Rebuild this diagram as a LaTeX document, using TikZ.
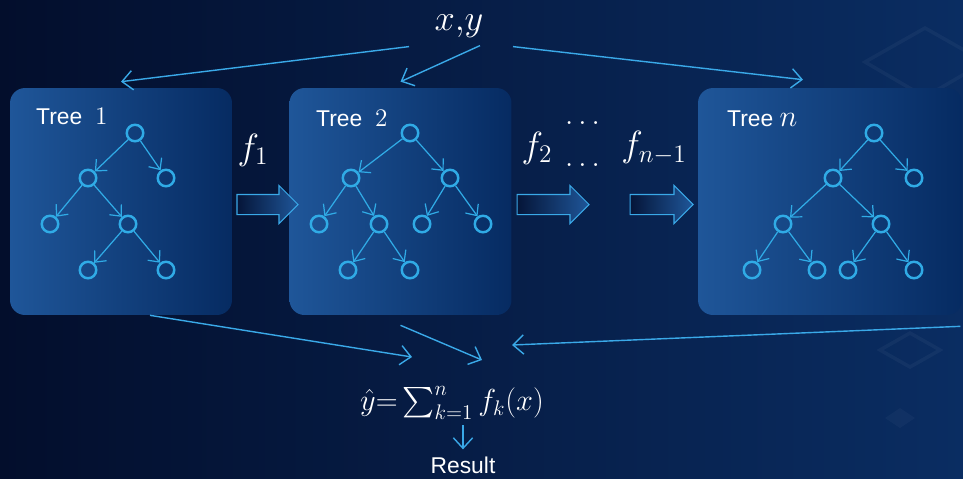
\documentclass[tikz,border=0pt]{standalone}
\usepackage{amsmath}
\usepackage[no-math]{fontspec}
\newfontfamily\arialfont{Liberation Sans}
\usetikzlibrary{arrows.meta,positioning,calc,shapes.arrows}
\definecolor{bgdark}{HTML}{030E2C}
\definecolor{bgmid}{HTML}{051538}
\definecolor{bgright}{HTML}{0A2D62}
\definecolor{boxlight}{HTML}{1F5699}
\definecolor{boxdark}{HTML}{062B62}
\definecolor{nodeblue}{HTML}{30ABE6}
\definecolor{linkblue}{HTML}{3AA9E8}

\begin{document}
\begin{tikzpicture}[x=0.02cm, y=-0.02cm,
  treebox/.style={rounded corners=0.3cm,minimum width=4.44cm,minimum height=4.54cm,left color=boxlight,right color=boxdark,inner sep=0},
  tn/.style={circle,draw=nodeblue,line width=1.4pt,minimum size=0.33cm,inner sep=0},
  te/.style={nodeblue,line width=0.7pt,-{Straight Barb[length=5pt,width=9pt]}},
  link/.style={linkblue,line width=0.8pt,-{Straight Barb[length=6pt,width=11pt]}},
  bigarrow/.style={single arrow,single arrow head extend=0.18cm,inner xsep=0,inner ysep=0.19cm,left color=bgmid,right color=boxlight,draw=linkblue,line width=0.6pt},
  lbl/.style={text=white,font=\arialfont\fontsize{13}{15}\selectfont},
  mth/.style={text=white,font=\fontsize{20}{24}\selectfont},
]
  % background
  \shade[left color=bgdark,middle color=bgmid,right color=bgright] (0,0) rectangle (963,478);
  \useasboundingbox (0,0) rectangle (963,478);
  \draw[white,opacity=0.04,line width=2pt] (865,62) -- (925,28) -- (985,62) -- (925,97) -- cycle;
  \draw[white,opacity=0.04,line width=2pt] (880,350) -- (910,333) -- (940,350) -- (910,367) -- cycle;
  \fill[white,opacity=0.03] (885,418) -- (900,408) -- (915,418) -- (900,428) -- cycle;

  % boxes
  \node[treebox] (t1) at (121,201.5) {};
  \node[treebox] (t2) at (400.5,201.5) {};
  \node[treebox,minimum width=5.28cm] (t3) at (830,201.5) {};

  \node[lbl,anchor=base west] (l1) at (30,124) {Tree\ \ \fontsize{15}{15}\selectfont$1$};
  \node[lbl,anchor=base west] (l2) at (310,126) {Tree\ \ \fontsize{15}{15}\selectfont$2$};
  \node[lbl,anchor=base west] (l3) at (721,126) {Tree\ \fontsize{18}{18}\selectfont$n$};

  % trees
  \foreach \n/\px/\py in {a1/135/133,a2/88/178,a3/166/178,a4/50/224,a5/128/224,a6/88/270,a7/166/270,
    b1/410/133,b2/351/178,b3/450/178,b4/319/224,b5/379/224,b6/422/224,b7/483/224,b8/348/270,b9/410/270,
    c1/874/133,c2/833/178,c3/914/178,c4/783/224,c5/881/224,c6/752/270,c7/817/270,c8/848/270,c9/914/270}
    \node[tn] (\n) at (\px,\py) {};
  \foreach \u/\v in {a1/a2,a1/a3,a2/a4,a2/a5,a5/a6,a5/a7,
    b1/b2,b1/b3,b2/b4,b2/b5,b3/b6,b3/b7,b5/b8,b5/b9,
    c1/c2,c1/c3,c2/c4,c2/c5,c4/c6,c4/c7,c5/c8,c5/c9}
    \draw[te] (\u) -- (\v);

  % boosting steps
  \node[bigarrow,minimum height=1.22cm] (p1) at (262.5,204.5) {};
  \node[bigarrow,minimum height=1.44cm] (p2) at (548,204.5) {};
  \node[bigarrow,minimum height=1.26cm] (p3) at (656.5,204.5) {};
  \node[mth] (f1) at (253,150) {$f_1$};
  \node[mth] (f2) at (537,148) {$f_2$};
  \node[mth] (f3) at (654,148) {$f_{n-1}$};
  \node[text=white,font=\fontsize{16}{18}\selectfont,anchor=base] (d1) at (585,124) {$\dots$};
  \node[text=white,font=\fontsize{16}{18}\selectfont,anchor=base] (d2) at (585,166) {$\dots$};

  % input
  \node[text=white,font=\fontsize{20}{22}\selectfont] (xy) at (459,26) {$x{,}y$};
  \draw[link] ([xshift=-1cm,yshift=-0.06cm]xy.south) -- ([yshift=0.12cm]t1.north);
  \draw[link] ([xshift=0.42cm,yshift=-0.04cm]xy.south) -- ([yshift=0.12cm]t2.north);
  \draw[link] ([xshift=1.08cm,yshift=-0.06cm]xy.south) -- ([xshift=-0.54cm,yshift=0.16cm]t3.north);

  % output
  \node[text=white,font=\fontsize{17}{20}\selectfont] (sum) at (452,403) {$\hat{y}{=}\sum_{k=1}^{n}f_k(x)$};
  \node[lbl,anchor=base,inner sep=1pt] (res) at (463,473) {Result};
  \coordinate (in1) at (412,357);
  \coordinate (in2) at (482,360);
  \coordinate (in3) at (512,345);
  \draw[link] ([xshift=0.58cm]t1.south) -- (in1);
  \draw[link] ([yshift=-0.2cm]t2.south) -- (in2);
  \draw[link] ([xshift=-0.04cm,yshift=-0.22cm]t3.south east) -- (in3);
  \draw[link] (res.north |- sum.south) -- ([yshift=0.1cm]res.north);
\end{tikzpicture}
\end{document}
